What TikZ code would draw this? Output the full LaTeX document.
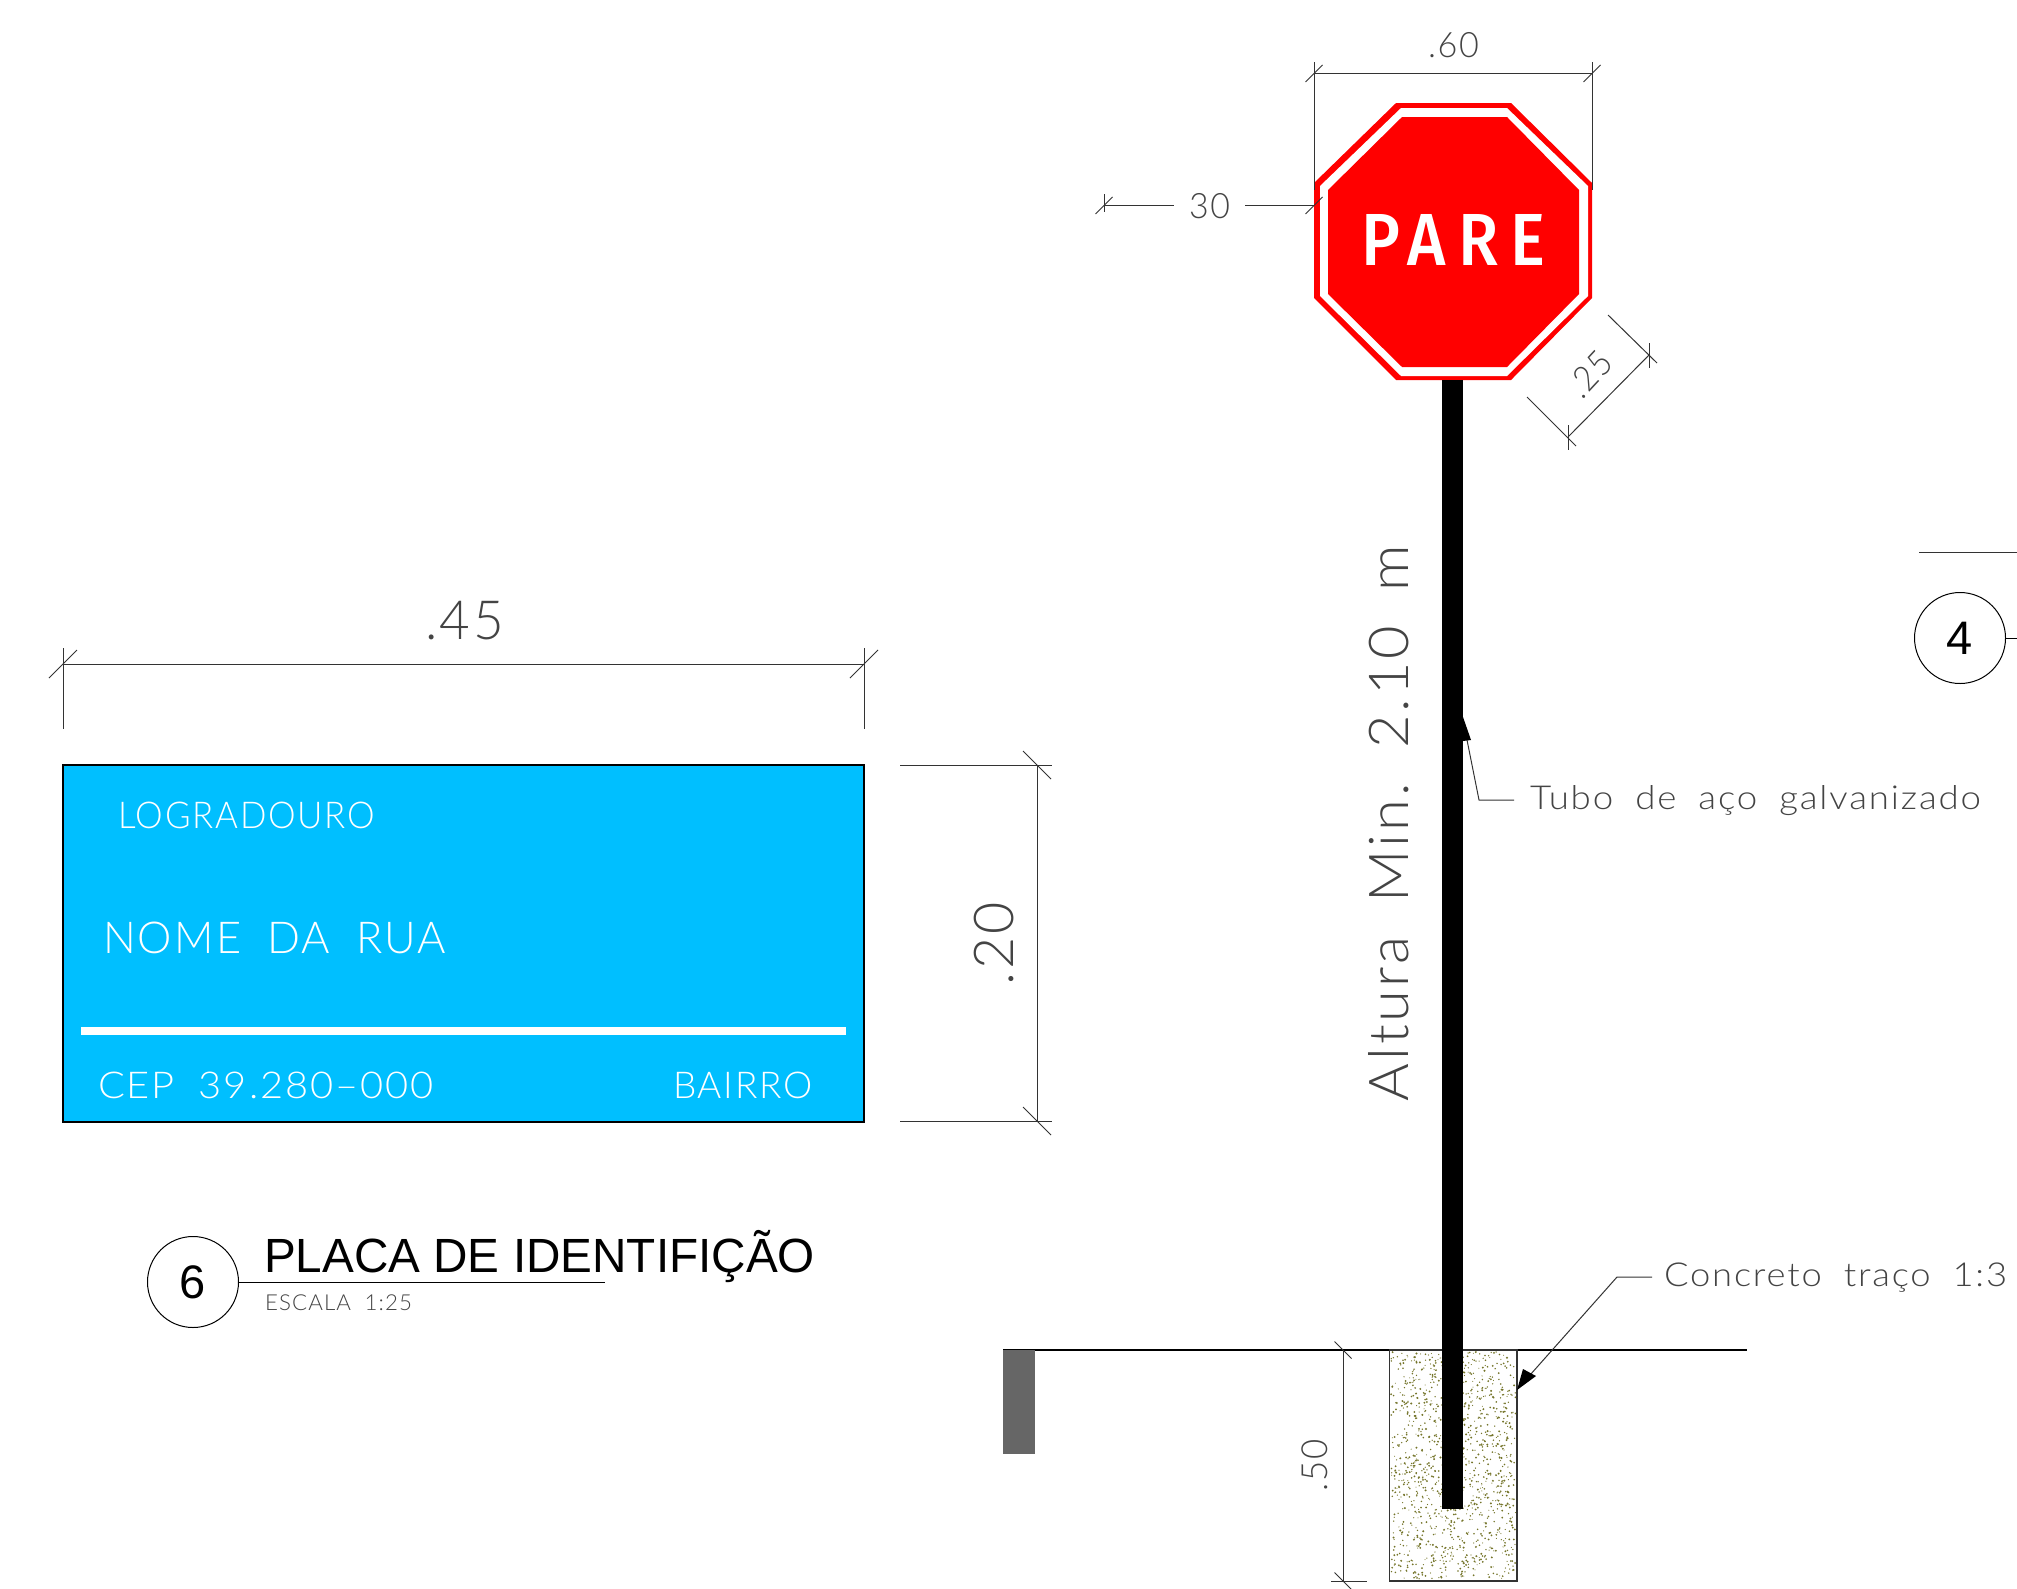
\documentclass[tikz,border=0pt]{standalone}
\usepackage{fontspec}
\usepackage{graphicx}
\setmainfont{Liberation Sans}
\newfontfamily\cad[LetterSpace=5]{Lato Light}
\newfontfamily\signf[LetterSpace=18]{Fira Sans Medium}
\newcommand{\cadt}[3]{{\fontsize{#1}{#1}\selectfont\cad\resizebox{#2pt}{\height}{#3}}}
\newcommand{\wgap}{\hspace*{.6em}}
\definecolor{planblue}{HTML}{00BFFF}
\definecolor{stopred}{HTML}{FF0000}
\definecolor{stipple}{HTML}{75752A}
\definecolor{curbgrey}{HTML}{666666}
\definecolor{dimgrey}{HTML}{333333}
\definecolor{cadtext}{HTML}{444444}
\tikzset{
  dimline/.style={draw=dimgrey,line width=1pt},
  lbl/.style={inner sep=0pt,outer sep=0pt,anchor=base west,text=cadtext},
  lblw/.style={lbl,text=white},
  bubble/.style={circle,draw=black,line width=1pt,minimum size=91pt,inner sep=0pt,font=\fontsize{47}{47}\selectfont}
}
\begin{document}
\begin{tikzpicture}[x=1pt,y=-1pt]
\useasboundingbox (0,0) rectangle (2017,1588);
\fill[white] (0,0) rectangle (2017,1588);

% ---------- street sign ----------
\draw[fill=planblue,draw=black,line width=1.2pt] (63,765) rectangle (864,1122);
\fill[white] (81,1027) rectangle (846,1035);
\node[lblw] (logr) at (118,828) {\cadt{37}{257}{LOGRADOURO}};
\node[lblw] (nome) at (103,953) {\cadt{44}{343}{NOME\wgap DA\wgap RUA}};
\node[lblw] (cep) at (98,1098) {\cadt{37}{336}{CEP\wgap 39.280–000}};
\node[lblw] (bairro) at (673,1098) {\cadt{37}{140}{BAIRRO}};

% dim .45
\draw[dimline] (63,664) -- (864,664);
\draw[dimline] (63,648) -- (63,729);
\draw[dimline] (864,648) -- (864,729);
\draw[dimline] (63,664) ++(-14,14) -- ++(28,-28);
\draw[dimline] (864,664) ++(-14,14) -- ++(28,-28);
\node[lbl] (d45) at (425,639) {\cadt{54}{79}{.45}};

% dim .20
\draw[dimline] (1037,765) -- (1037,1121);
\draw[dimline] (900,765) -- (1052,765);
\draw[dimline] (900,1121) -- (1052,1121);
\draw[dimline] (1037,765) ++(-14,-14) -- ++(28,28);
\draw[dimline] (1037,1121) ++(-14,-14) -- ++(28,28);
\node[lbl,rotate=90] (d20) at (1013,985) {\cadt{55}{83}{.20}};

% title 6
\node[bubble] (six) at (193,1282) {6};
\coordinate (sixend) at (605,1282);
\draw[line width=1pt] (six.east) -- (sixend);
\node[lbl,text=black] (title) at (264,1272) {\fontsize{48}{48}\selectfont\resizebox{551pt}{\height}{PLACA DE IDENTIFIÇÃO}};
\node[lbl] (esc) at (265,1310) {\cadt{22}{147}{ESCALA\wgap 1:25}};

% ---------- stop sign ----------
\fill[stopred] (1396,103) -- (1511,103) -- (1592,183) -- (1592,298) -- (1511,380) -- (1396,380) -- (1314,298) -- (1314,183) -- cycle;
\fill[white] (1401,108) -- (1507,108) -- (1588,186) -- (1588,296) -- (1507,376) -- (1401,376) -- (1320,296) -- (1320,186) -- cycle;
\fill[stopred] (1402,117) -- (1507,117) -- (1579,190) -- (1579,294) -- (1507,367) -- (1402,367) -- (1328,294) -- (1328,190) -- cycle;
\node[lblw] (pare) at (1361,265) {\resizebox{184pt}{51pt}{\fontsize{40}{40}\selectfont\signf PARE}};

% dim .60
\draw[dimline] (1314,73.5) -- (1592,73.5);
\draw[dimline] (1314,62) -- (1314,190);
\draw[dimline] (1592,62) -- (1592,190);
\draw[dimline] (1314,73.5) ++(-8.5,8.5) -- ++(17,-17);
\draw[dimline] (1592,73.5) ++(-8.5,8.5) -- ++(17,-17);
\node[lbl] (d60) at (1428,57) {\cadt{35}{51}{.60}};

% dim 30
\node[lbl] (d30) at (1189,218) {\cadt{35}{41}{30}};
\coordinate (thirtya) at (1104,205.5);
\coordinate (thirtyb) at (1314,205.5);
\draw[dimline] (thirtya) -- (1174,205.5);
\draw[dimline] (1245,205.5) -- (thirtyb);
\draw[dimline] (1104,194) -- (1104,212);
\draw[dimline] (thirtya) ++(-8.5,8.5) -- ++(17,-17);
\draw[dimline] (thirtyb) ++(-8.5,8.5) -- ++(17,-17);

% dim .25
\draw[dimline] (1568,437) -- (1649,355);
\draw[dimline] (1527,397) -- (1576,446);
\draw[dimline] (1608,315) -- (1657,363);
\draw[dimline] (1568,425) -- (1568,450);
\draw[dimline] (1649,343) -- (1649,368);
\node[lbl,rotate=47] (d25) at (1582,400) {\cadt{35}{48}{.25}};

% height label
\node[lbl,rotate=90] (alt) at (1408,1101) {\cadt{55}{556}{Altura\wgap Min.\wgap 2.10\wgap m}};

% ---------- ground, concrete ----------
\draw[line width=1.1pt,draw=black] (1003,1350) -- (1747,1350);
\fill[curbgrey] (1003,1350) rectangle (1035,1454);
\draw[fill=white,draw=dimgrey,line width=1.2pt] (1389.5,1350) rectangle (1517,1581);
\pgfmathsetseed{4217}
\foreach \i in {1,...,1300}{
  \pgfmathsetmacro{\px}{1391+rnd*124.5}
  \pgfmathsetmacro{\py}{1352+rnd*227}
  \pgfmathsetmacro{\pr}{.5+.6*rnd}
  \fill[stipple] (\px,\py) circle[radius=\pr pt];
}
% pole
\fill[black] (1441.5,380) rectangle (1463,1509);

% dim .50
\draw[dimline] (1343,1350) -- (1343,1581);
\draw[dimline] (1331,1581) -- (1367,1581);
\draw[dimline] (1343,1350) ++(-8.5,-8.5) -- ++(17,17);
\draw[dimline] (1343,1581) ++(-8.5,-8.5) -- ++(17,17);
\node[lbl,rotate=90] (d50) at (1327,1491) {\cadt{36}{52}{.50}};

% leaders
\coordinate (tubotip) at (1463,717);
\node[lbl] (tubo) at (1530,809) {\cadt{33}{451}{Tubo\wgap de\wgap aço\wgap galvanizado}};
\draw[dimline] (1467,740) -- (1479,800) -- (1514,800);
\fill[black] (tubotip) -- (1471,740) -- (1463,741) -- cycle;

\coordinate (conctip) at (1517,1390);
\node[lbl] (conc) at (1664,1286) {\cadt{33}{343}{Concreto\wgap traço\wgap 1:3}};
\draw[dimline] (1530,1375) -- (1617,1277) -- (1652,1277);
\fill[black] (conctip) -- (1523,1369) -- (1536,1376) -- cycle;

% ---------- partial title 4 ----------
\node[bubble] (four) at (1960,638) {4};
\coordinate (fourend) at (2017,638);
\draw[line width=1pt] (four.east) -- (fourend);
\draw[dimline] (1919,552) -- (2017,552);
\end{tikzpicture}
\end{document}
